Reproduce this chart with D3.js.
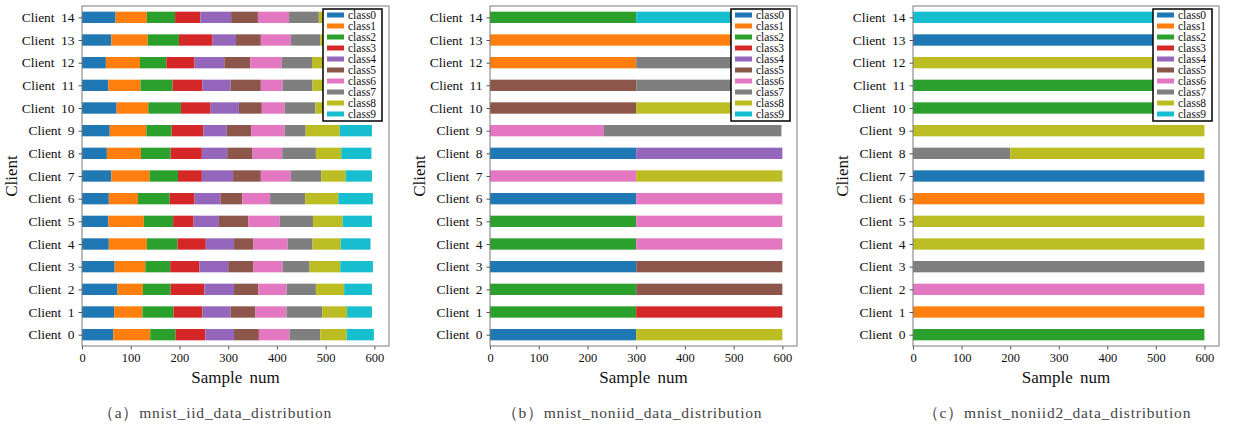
<!DOCTYPE html>
<html>
<head>
<meta charset="utf-8">
<script src="https://cdn.jsdelivr.net/npm/d3@7"></script>
<style>
  body { margin: 0; background: #fff; }
  svg text { font-family: "Liberation Serif", "DejaVu Serif", serif; }
</style>
</head>
<body>
<svg id="chart" width="1234" height="425"></svg>
<script>
const clientLabels = d3.range(15).map(i => `Client ${i}`)
const classNames = ['class0','class1','class2','class3','class4','class5','class6','class7','class8','class9']
const classColors = ['#1f77b4','#ff7f0e','#2ca02c','#d62728','#9467bd','#8c564b','#e377c2','#7f7f7f','#bcbd22','#17becf']
const xTicks = [0, 100, 200, 300, 400, 500, 600]

// rows = client 0..14, columns = class0..class9
const iidCounts = [
  [64,76,52,61,59,51,63,63,54,56],
  [66,58,64,59,58,51,64,73,51,51],
  [73,52,57,69,61,50,58,60,58,57],
  [67,63,51,60,59,51,61,55,63,67],
  [55,78,63,58,58,39,71,51,58,61],
  [54,73,60,42,52,60,65,68,61,60],
  [55,60,65,51,53,45,57,72,68,71],
  [60,79,58,49,64,57,62,62,50,54],
  [51,70,61,64,52,52,61,69,52,62],
  [57,75,52,65,48,50,69,43,70,66],
  [71,65,67,61,58,47,47,63,60,61],
  [54,66,66,61,58,62,45,61,63,64],
  [49,70,54,58,61,53,65,62,62,64],
  [60,75,64,69,48,51,62,60,55,56],
  [69,64,58,52,63,55,64,61,55,59]
]

const noniidCounts = [
  [300,0,0,0,0,0,0,0,300,0],
  [0,0,300,300,0,0,0,0,0,0],
  [0,0,300,0,0,300,0,0,0,0],
  [300,0,0,0,0,300,0,0,0,0],
  [0,0,300,0,0,0,300,0,0,0],
  [0,0,300,0,0,0,300,0,0,0],
  [300,0,0,0,0,0,300,0,0,0],
  [0,0,0,0,0,0,300,0,300,0],
  [300,0,0,0,300,0,0,0,0,0],
  [0,0,0,0,0,0,234,364,0,0],
  [0,0,0,0,0,300,0,0,300,0],
  [0,0,0,0,0,300,0,300,0,0],
  [0,300,0,0,0,0,0,300,0,0],
  [0,600,0,0,0,0,0,0,0,0],
  [0,0,300,0,0,0,0,0,0,300]
]

const noniid2Counts = [
  [0,0,600,0,0,0,0,0,0,0],
  [0,600,0,0,0,0,0,0,0,0],
  [0,0,0,0,0,0,600,0,0,0],
  [0,0,0,0,0,0,0,600,0,0],
  [0,0,0,0,0,0,0,0,600,0],
  [0,0,0,0,0,0,0,0,600,0],
  [0,600,0,0,0,0,0,0,0,0],
  [600,0,0,0,0,0,0,0,0,0],
  [0,0,0,0,0,0,0,200,400,0],
  [0,0,0,0,0,0,0,0,600,0],
  [0,0,600,0,0,0,0,0,0,0],
  [0,0,600,0,0,0,0,0,0,0],
  [0,0,0,0,0,0,0,0,600,0],
  [600,0,0,0,0,0,0,0,0,0],
  [0,0,0,0,0,0,0,0,0,600]
]

const panels = [
  {counts: iidCounts, left: 82, right: 389, caption: '（a）mnist_iid_data_distribution', capX: 215},
  {counts: noniidCounts, left: 490, right: 797, caption: '（b）mnist_noniid_data_distribution', capX: 632},
  {counts: noniid2Counts, left: 913, right: 1219, caption: '（c）mnist_noniid2_data_distribution', capX: 1057}
]

const plotTop = 6, plotBottom = 346
const svg = d3.select('#chart')

panels.forEach(p => {
  const g = svg.append('g')

  const x = d3.scaleLinear().domain([0, 630]).range([p.left, p.right])
  const y = d3.scaleLinear().domain([-0.5, 14.5]).range([plotBottom, plotTop])

  const rows = p.counts.map(r => {
    const o = {}
    classNames.forEach((c, i) => o[c] = r[i])
    return o
  })
  const series = d3.stack().keys(classNames)(rows)

  // bars
  g.selectAll('g.series')
    .data(series)
    .join('g')
      .attr('class', 'series')
      .attr('fill', (d, i) => classColors[i])
    .selectAll('rect')
    .data(d => d.map((v, i) => ({v, i})))
    .join('rect')
      .attr('x', d => x(d.v[0]))
      .attr('width', d => Math.max(0, x(d.v[1]) - x(d.v[0])))
      .attr('y', d => y(d.i + 0.25))
      .attr('height', y(0) - y(0.5))

  // frame
  g.append('rect')
    .attr('x', p.left).attr('y', plotTop)
    .attr('width', p.right - p.left).attr('height', plotBottom - plotTop)
    .attr('fill', 'none').attr('stroke', '#7a7a7a').attr('stroke-width', 1)

  // x-axis
  g.append('g')
    .attr('transform', `translate(0, ${plotBottom})`)
    .call(d3.axisBottom(x).tickValues(xTicks).tickSize(3.5).tickPadding(4))
    .call(a => a.select('.domain').remove())
    .call(a => a.selectAll('line').attr('stroke', '#555'))
    .call(a => a.selectAll('text').attr('font-size', 12.5).attr('fill', '#111'))

  // y-axis
  g.append('g')
    .attr('transform', `translate(${p.left}, 0)`)
    .call(d3.axisLeft(y).tickValues(d3.range(15)).tickFormat(i => clientLabels[i]).tickSize(3.5).tickPadding(4))
    .call(a => a.select('.domain').remove())
    .call(a => a.selectAll('line').attr('stroke', '#555'))
    .call(a => a.selectAll('text').attr('font-size', 13.5).attr('fill', '#111')
      .attr('word-spacing', 3))

  // axis labels
  g.append('text')
    .attr('x', (p.left + p.right) / 2).attr('y', 383)
    .attr('text-anchor', 'middle').attr('font-size', 17).attr('word-spacing', 3)
    .attr('fill', '#111')
    .text('Sample num')

  g.append('text')
    .attr('transform', `translate(${p.left - 65}, ${(plotTop + plotBottom) / 2}) rotate(-90)`)
    .attr('text-anchor', 'middle').attr('font-size', 17)
    .attr('fill', '#111')
    .text('Client')

  // legend
  const lx = p.right - 66, ly = plotTop + 3
  const lg = g.append('g').attr('transform', `translate(${lx}, ${ly})`)
  lg.append('rect')
    .attr('width', 59).attr('height', 112)
    .attr('fill', '#fff').attr('stroke', '#000').attr('stroke-width', 1.5)
  classNames.forEach((c, i) => {
    lg.append('rect')
      .attr('x', 4).attr('y', 6 + i * 11 - 2.5)
      .attr('width', 17).attr('height', 5)
      .attr('fill', classColors[i])
    lg.append('text')
      .attr('x', 25).attr('y', 6 + i * 11 + 4)
      .attr('font-size', 11.5).attr('fill', '#111')
      .text(c)
  })

  // caption
  g.append('text')
    .attr('x', p.capX).attr('y', 418)
    .attr('text-anchor', 'middle').attr('font-size', 15.5).attr('letter-spacing', 0.8)
    .attr('fill', '#444')
    .text(p.caption)
})
</script>
</body>
</html>
